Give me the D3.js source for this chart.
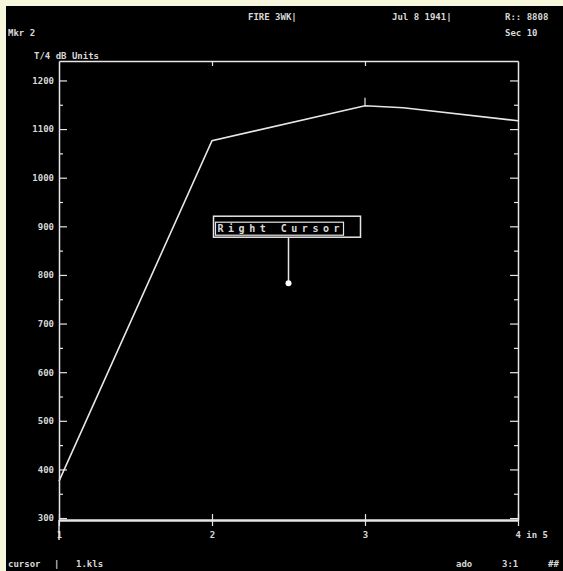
<!DOCTYPE html>
<html>
<head>
<meta charset="utf-8">
<script src="https://cdn.jsdelivr.net/npm/d3@7"></script>
<style>
  body { margin: 0; background: #f6f7dc; }
  svg { display: block; }
  text { font-family: "DejaVu Sans Mono", monospace; font-weight: bold; fill: #d8d8d8; }
</style>
</head>
<body>
<div id="screen"></div>
<script>
// trace points (x position, level)
const traceX = [1, 2, 3, 3.25, 4];
const traceY = [376, 1076, 1148, 1144, 1117];
const yTicks = [300, 400, 500, 600, 700, 800, 900, 1000, 1100, 1200];
const yLabels = ["300", "400", "500", "600", "700", "800", "900", "1000", "1100", "1200"];
const xTicks = [1, 2, 3, 4];
const xLabels = ["1", "2", "3", "4 in 5"];
const cursorPos = [2.5, 783];
const headerTexts = ["FIRE 3WK|", "Jul 8 1941|", "R:: 8808"];

const width = 563, height = 571;
const margin = {top: 61, right: 45, bottom: 51, left: 59};

const svg = d3.select("#screen").append("svg")
    .attr("width", width)
    .attr("height", height);

// yellowish border, black screen
svg.append("rect").attr("x", 6).attr("y", 6)
    .attr("width", width - 6).attr("height", height - 6)
    .attr("fill", "#000");

const x = d3.scaleLinear()
    .domain([1, 4])
    .range([margin.left, width - margin.right]);
const y = d3.scaleLinear()
    .domain([296, 1240])
    .range([height - margin.bottom, margin.top]);

const stroke = "#e6e6e6";

function styleAxis(g) {
    g.select(".domain").attr("stroke", stroke).attr("stroke-width", 1.5);
    g.selectAll(".tick line").attr("stroke", stroke).attr("stroke-width", 1.2);
    g.selectAll(".tick text").attr("fill", "#cfcfcf").style("font-size", "9px")
        .style("font-family", "DejaVu Sans Mono, monospace").style("font-weight", "bold");
}

// left axis with labels, ticks pointing inward
svg.append("g")
    .attr("transform", `translate(${margin.left},0)`)
    .call(d3.axisLeft(y).tickValues(yTicks)
        .tickFormat((d, i) => yLabels[i])
        .tickSizeInner(-8).tickSizeOuter(0).tickPadding(5))
    .call(styleAxis);
// minor ticks left
svg.append("g")
    .attr("transform", `translate(${margin.left},0)`)
    .call(d3.axisLeft(y).tickValues(yTicks.slice(0, -1).map(d => d + 50))
        .tickFormat("").tickSizeInner(-4).tickSizeOuter(0))
    .call(styleAxis)
    .select(".domain").remove();

// right axis
svg.append("g")
    .attr("transform", `translate(${width - margin.right},0)`)
    .call(d3.axisRight(y).tickValues(yTicks)
        .tickFormat("").tickSizeInner(-8).tickSizeOuter(0))
    .call(styleAxis);
svg.append("g")
    .attr("transform", `translate(${width - margin.right},0)`)
    .call(d3.axisRight(y).tickValues(yTicks.slice(0, -1).map(d => d + 50))
        .tickFormat("").tickSizeInner(-4).tickSizeOuter(0))
    .call(styleAxis)
    .select(".domain").remove();

// bottom axis
const bottom = svg.append("g")
    .attr("transform", `translate(0,${height - margin.bottom})`)
    .call(d3.axisBottom(x).tickValues(xTicks)
        .tickFormat((d, i) => xLabels[i])
        .tickSizeInner(6).tickSizeOuter(0).tickPadding(6))
    .call(styleAxis);
bottom.select(".domain").attr("stroke-width", 2.5);
bottom.selectAll(".tick line").attr("y1", -6);
bottom.selectAll(".tick text").filter((d, i) => i === xTicks.length - 1)
    .attr("text-anchor", "start").attr("x", -3);

// top axis
svg.append("g")
    .attr("transform", `translate(0,${margin.top})`)
    .call(d3.axisTop(x).tickValues(xTicks.slice(1, -1))
        .tickFormat("").tickSizeInner(-5).tickSizeOuter(0))
    .call(styleAxis);

// left axis runs past the bottom line
svg.append("line")
    .attr("x1", x(1)).attr("x2", x(1))
    .attr("y1", y(296)).attr("y2", y(296) + 20)
    .attr("stroke", stroke).attr("stroke-width", 1.5);

// trace
const points = traceX.map((d, i) => [d, traceY[i]]);
svg.append("path")
    .datum(points)
    .attr("fill", "none")
    .attr("stroke", stroke)
    .attr("stroke-width", 1.6)
    .attr("d", d3.line().x(d => x(d[0])).y(d => y(d[1])));

// peak marker
svg.append("line")
    .attr("x1", x(3)).attr("x2", x(3))
    .attr("y1", y(1148)).attr("y2", y(1148) - 8)
    .attr("stroke", stroke).attr("stroke-width", 1.2);

// cursor readout box
const cx = x(cursorPos[0]), cy = y(cursorPos[1]);
svg.append("rect")
    .attr("x", cx - 75).attr("y", cy - 67)
    .attr("width", 147).attr("height", 21)
    .attr("fill", "none").attr("stroke", stroke).attr("stroke-width", 1.5);
svg.append("rect")
    .attr("x", cx - 73).attr("y", cy - 61)
    .attr("width", 128).attr("height", 13)
    .attr("fill", "none").attr("stroke", stroke).attr("stroke-width", 1.2);
svg.append("text")
    .attr("x", cx - 71).attr("y", cy - 51)
    .style("font-size", "10px")
    .attr("textLength", 122)
    .text("Right Cursor");
svg.append("line")
    .attr("x1", cx).attr("x2", cx)
    .attr("y1", cy - 46).attr("y2", cy)
    .attr("stroke", stroke).attr("stroke-width", 1.5);
svg.append("circle")
    .attr("cx", cx).attr("cy", cy).attr("r", 3)
    .attr("fill", "#fff");

// header and status texts
const small = (tx, ty, s, anchor) => svg.append("text")
    .attr("x", tx).attr("y", ty)
    .attr("text-anchor", anchor || "start")
    .style("font-size", "9px")
    .text(s);
small(248, 20, headerTexts[0]);
small(392, 20, headerTexts[1]);
small(505, 20, headerTexts[2]);
small(8, 36, "Mkr 2");
small(505, 36, "Sec 10");
small(34, 59, "T/4 dB Units");
small(8, 567, "cursor");
small(54, 567, "|");
small(76, 567, "1.kls");
small(456, 567, "ado");
small(502, 567, "3:1");
small(548, 567, "##");
</script>
</body>
</html>
